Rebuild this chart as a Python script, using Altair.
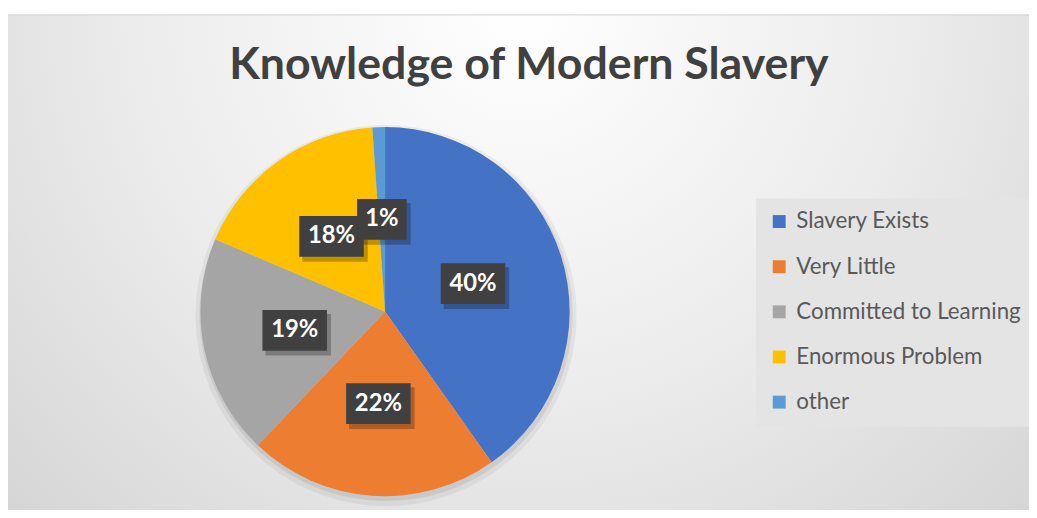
import altair as alt
import pandas as pd

title_text = "Knowledge of Modern Slavery"
categories = ["Slavery Exists", "Very Little", "Committed to Learning", "Enormous Problem", "other"]
values = [40.2, 21.9, 19.3, 17.5, 1.1]
labels = ["40%", "22%", "19%", "18%", "1%"]
colors = ["#4472C4", "#ED7D31", "#A5A5A5", "#FFC000", "#5B9BD5"]

df = pd.DataFrame({
    "category": categories,
    "value": values,
    "label": labels,
    "idx": list(range(len(categories))),
})

W, H = 1029, 502
CX, CY, R = 380, 304, 186   # pie centre in view coords
LR = 93                     # label radius
FONT = "Lato"

one = alt.Data(values=[{}])

bg = alt.Chart(one).mark_rect(
    color={
        "gradient": "radial",
        "x1": 0.5, "y1": 0.25, "r1": 0,
        "x2": 0.5, "y2": 0.25, "r2": 0.75,
        "stops": [
            {"offset": 0, "color": "#ffffff"},
            {"offset": 0.5, "color": "#ececec"},
            {"offset": 1, "color": "#d2d2d2"},
        ],
    },
    stroke="#d0d0d0", strokeWidth=1,
).encode(x=alt.value(-1), x2=alt.value(W + 5), y=alt.value(5), y2=alt.value(H + 10))

title = alt.Chart(one).mark_text(
    font=FONT, fontSize=45, fontWeight="bold", color="#404040",
    align="center", baseline="alphabetic",
).encode(x=alt.value(525), y=alt.value(70), text=alt.value(title_text))

pie_shadow1 = alt.Chart(one).mark_arc(radius=R + 6, color="#000000", opacity=0.05).encode(
    theta=alt.value(6.2832), x=alt.value(CX + 1), y=alt.value(CY + 4))
pie_shadow2 = alt.Chart(one).mark_arc(radius=R + 2, color="#000000", opacity=0.07).encode(
    theta=alt.value(6.2832), x=alt.value(CX + 1), y=alt.value(CY + 3))

base = alt.Chart(df)

pie = base.mark_arc(radius=R).encode(
    theta=alt.Theta("value:Q", stack=True),
    order=alt.Order("idx:Q"),
    color=alt.Color(
        "category:N",
        scale=alt.Scale(domain=categories, range=colors),
        sort=categories,
        legend=alt.Legend(
            title=None, orient="none", legendX=754, legendY=190,
            padding=12, fillColor="#e4e4e4", strokeColor="#e4e4e4",
            symbolType="square", symbolSize=169, symbolStrokeWidth=0,
            symbolOpacity=1, labelFont=FONT, labelFontSize=22.5,
            labelColor="#595959", labelOffset=6, rowPadding=22.5,
            labelLimit=400,
        ),
    ),
    x=alt.value(CX), y=alt.value(CY),
)

lab = base.transform_joinaggregate(total="sum(value)").transform_window(
    cum="sum(value)", sort=[alt.SortField("idx")], frame=[None, 0]
).transform_calculate(
    mid="(datum.cum - datum.value/2)/datum.total*2*PI",
    px=f"{CX}+{LR}*sin(datum.mid)",
    py=f"{CY}-{LR}*cos(datum.mid)",
    bw="15*length(datum.label)+20",
).transform_calculate(
    bx1="datum.px - datum.bw/2", bx2="datum.px + datum.bw/2",
    by1="datum.py - 20.5", by2="datum.py + 20.5",
    sx1="datum.px - datum.bw/2 + 3", sx2="datum.px + datum.bw/2 + 4",
    sy1="datum.py - 20.5 + 4", sy2="datum.py + 20.5 + 5",
)

box_shadow = lab.mark_rect(color="#000000", opacity=0.25).encode(
    x=alt.X("sx1:Q", scale=None, axis=None), x2="sx2:Q",
    y=alt.Y("sy1:Q", scale=None, axis=None), y2="sy2:Q",
)
box = lab.mark_rect(color="#404040").encode(
    x=alt.X("bx1:Q", scale=None, axis=None), x2="bx2:Q",
    y=alt.Y("by1:Q", scale=None, axis=None), y2="by2:Q",
)
txt = lab.mark_text(
    font=FONT, fontSize=24, fontWeight="bold", color="#ffffff",
    align="center", baseline="middle",
).encode(
    x=alt.X("px:Q", scale=None, axis=None),
    y=alt.Y("py:Q", scale=None, axis=None),
    text="label:N",
)

chart = alt.layer(
    bg, title, pie_shadow1, pie_shadow2, pie, box_shadow, box, txt
).properties(
    width=W, height=H, padding=0, autosize=alt.AutoSizeParams(type="none"),
    background="#ffffff",
).configure_view(stroke=None)

chart.save("out.html", embed_options={"renderer": "svg", "actions": False})
